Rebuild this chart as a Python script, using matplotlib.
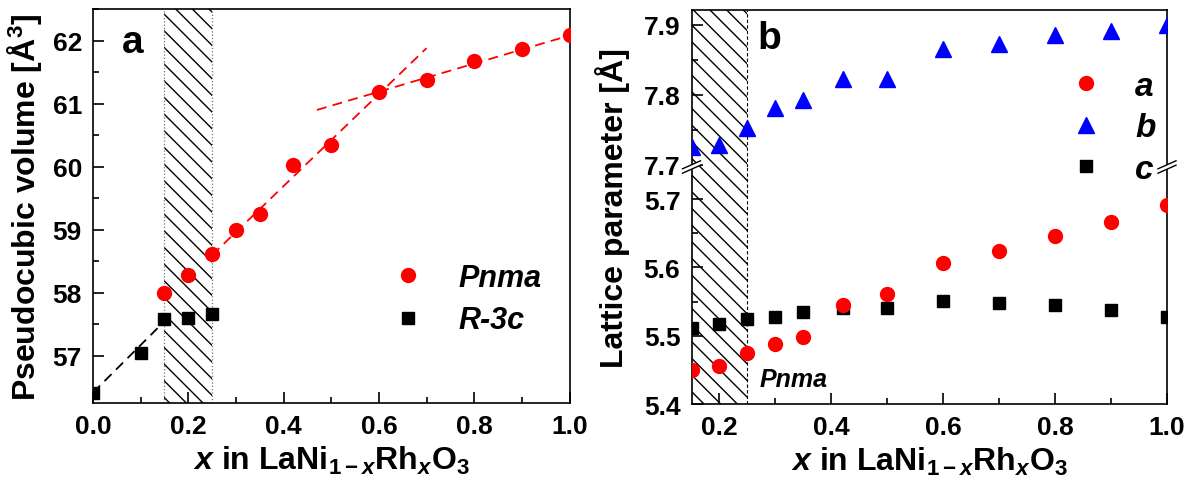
import matplotlib
matplotlib.use('Agg')
import matplotlib.pyplot as plt
from matplotlib.ticker import MultipleLocator
from matplotlib.lines import Line2D
from matplotlib.patches import Polygon

plt.rcParams['font.family'] = ['Liberation Sans', 'DejaVu Sans']
plt.rcParams['font.weight'] = 'bold'
plt.rcParams['axes.labelweight'] = 'bold'
plt.rcParams['mathtext.fontset'] = 'custom'
plt.rcParams['mathtext.rm'] = 'Liberation Sans:bold'
plt.rcParams['mathtext.it'] = 'Liberation Sans:italic:bold'
plt.rcParams['mathtext.bf'] = 'Liberation Sans:bold'
plt.rcParams['hatch.linewidth'] = 1.0
plt.rcParams['axes.linewidth'] = 1.2

# panel a: pseudocubic volume
x_pnma = [0.15, 0.2, 0.25, 0.3, 0.35, 0.42, 0.5, 0.6, 0.7, 0.8, 0.9, 1.0]
v_pnma = [58.00, 58.28, 58.61, 58.99, 59.25, 60.03, 60.35, 61.18, 61.37, 61.67, 61.86, 62.08]
x_r3c = [0.0, 0.1, 0.15, 0.2, 0.25]
v_r3c = [56.42, 57.05, 57.58, 57.61, 57.66]

# guide lines (end points)
fit_r3c_x = [0.0, 0.15]
fit_r3c_y = [56.42, 57.55]
fit_low_x = [0.25, 0.70]
fit_low_y = [58.60, 61.88]
fit_high_x = [0.47, 1.0]
fit_high_y = [60.90, 62.08]

# panel b: lattice parameters
x_lat = [0.15, 0.2, 0.25, 0.3, 0.35, 0.42, 0.5, 0.6, 0.7, 0.8, 0.9, 1.0]
a_lat = [5.450, 5.456, 5.474, 5.488, 5.498, 5.545, 5.561, 5.606, 5.624, 5.646, 5.666, 5.691]
b_lat = [7.725, 7.729, 7.752, 7.781, 7.792, 7.823, 7.822, 7.866, 7.873, 7.885, 7.891, 7.899]
c_lat = [5.512, 5.517, 5.525, 5.527, 5.534, 5.540, 5.541, 5.551, 5.548, 5.545, 5.538, 5.527]

hatch_lo, hatch_hi = 0.15, 0.25

W, H = 1196, 489
fig = plt.figure(figsize=(W / 100, H / 100), dpi=100)
ax1 = fig.add_axes([93 / W, 1 - 404 / H, 476.5 / W, 394 / H])
ax_lo = fig.add_axes([691.5 / W, 1 - 405 / H, 475.5 / W, 237 / H])
ax_up = fig.add_axes([691.5 / W, 1 - 168 / H, 475.5 / W, 157 / H])


def style_ticks(ax):
    ax.tick_params(which='both', direction='in', top=False, right=False,
                   labelsize=19, width=1.2, pad=8)
    ax.tick_params(which='major', length=8)
    ax.tick_params(which='minor', length=4)


xlabel = r'$x$ in LaNi$_{1-x}$Rh$_x$O$_3$'

# ---- panel a ----
ax1.axvspan(hatch_lo, hatch_hi, facecolor='none', edgecolor='black',
            hatch='\\\\', lw=0, zorder=0)
ax1.axvline(hatch_lo, color='0.45', ls=':', lw=0.9, zorder=1)
ax1.axvline(hatch_hi, color='0.45', ls=':', lw=0.9, zorder=1)

ax1.plot(fit_r3c_x, fit_r3c_y, color='black', lw=1.3, dashes=(5.5, 3.5), zorder=2)
ax1.plot(fit_low_x, fit_low_y, color='red', lw=1.3, dashes=(5.5, 3.5), zorder=2)
ax1.plot(fit_high_x, fit_high_y, color='red', lw=1.3, dashes=(5.5, 3.5), zorder=2)

ax1.plot(x_pnma, v_pnma, 'o', color='red', ms=10, label='Pnma', zorder=3)
ax1.plot(x_r3c, v_r3c, 's', color='black', ms=9, label='R-3c', zorder=3)

ax1.set_xlim(0.0, 1.0)
ax1.set_ylim(56.255, 62.5)
ax1.xaxis.set_major_locator(MultipleLocator(0.2))
ax1.xaxis.set_minor_locator(MultipleLocator(0.1))
ax1.yaxis.set_major_locator(MultipleLocator(1))
ax1.yaxis.set_minor_locator(MultipleLocator(0.5))
ax1.xaxis.set_major_formatter(lambda v, p: f'{v:.1f}')
style_ticks(ax1)
ax1.set_xlabel(xlabel, fontsize=23, fontweight='bold', labelpad=4)
ax1.set_ylabel(u'Pseudocubic volume [\u00c5$^3$]', fontsize=23,
               fontweight='bold', labelpad=6)
ax1.text(0.084, 0.916, 'a', transform=ax1.transAxes, fontsize=28,
         ha='center', va='center')
ax1.legend(loc='upper left', bbox_to_anchor=(0.63, 0.355), frameon=False,
           borderpad=0, borderaxespad=0, handlelength=1.0, handletextpad=1.14,
           labelspacing=0.40, numpoints=1,
           prop={'style': 'italic', 'weight': 'bold', 'size': 22})

# ---- panel b (broken axis) ----
for ax in (ax_lo, ax_up):
    ax.axvspan(hatch_lo, hatch_hi, facecolor='none', edgecolor='black',
               hatch='\\\\', lw=0, zorder=0)
    ax.axvline(hatch_hi, color='black', ls='--', lw=0.8, dashes=(3, 2), zorder=1)
    ax.set_xlim(0.15, 1.0)
    ax.xaxis.set_major_locator(MultipleLocator(0.2))
    ax.xaxis.set_minor_locator(MultipleLocator(0.1))
    ax.yaxis.set_major_locator(MultipleLocator(0.1))
    ax.yaxis.set_minor_locator(MultipleLocator(0.05))
    style_ticks(ax)

ax_lo.plot(x_lat, c_lat, 's', color='black', ms=9, zorder=3)
ax_lo.plot(x_lat, a_lat, 'o', color='red', ms=10, zorder=4)
ax_up.plot(x_lat, b_lat, '^', color='blue', ms=12, zorder=3)

ax_lo.set_ylim(5.4, 5.747)
ax_up.set_ylim(7.697, 7.921)
ax_lo.yaxis.set_major_formatter(lambda v, p: f'{v:.1f}')
ax_up.yaxis.set_major_formatter(lambda v, p: f'{v:.1f}')
ax_lo.xaxis.set_major_formatter(lambda v, p: f'{v:.1f}')
ax_lo.spines['top'].set_visible(False)
ax_up.spines['bottom'].set_visible(False)
ax_up.tick_params(which='both', bottom=False, labelbottom=False)

ax_lo.set_xlabel(xlabel, fontsize=23, fontweight='bold', labelpad=4)
fig.text(613 / W, 1 - 208.5 / H, u'Lattice parameter [\u00c5]', fontsize=23,
         fontweight='bold', rotation=90, ha='center', va='center')
ax_up.text(0.163, 0.822, 'b', transform=ax_up.transAxes, fontsize=28,
           ha='center', va='center')
ax_lo.text(0.272, 5.426, 'Pnma', fontsize=18, style='italic', va='baseline')

handles = [
    Line2D([], [], ls='none', marker='o', color='red', ms=10),
    Line2D([], [], ls='none', marker='^', color='blue', ms=12),
    Line2D([], [], ls='none', marker='s', color='black', ms=9),
]
leg = ax_up.legend(handles, ['a', 'b', 'c'], loc='upper left',
                   bbox_to_anchor=(0.794, 0.612), frameon=False, borderpad=0,
                   borderaxespad=0, handlelength=1.0, handletextpad=0.98,
                   labelspacing=0.31, numpoints=1,
                   prop={'style': 'italic', 'weight': 'bold', 'size': 24})
leg.set_zorder(10)

# break marks on both vertical spines
pos = ax_lo.get_position()
for xf in (pos.x0, pos.x1):
    px, py = xf * W, (1 - pos.y1) * H
    gap = 2.2
    upper = [((px - 9) / W, 1 - (py + 4 - gap) / H), ((px + 9) / W, 1 - (py - 4 - gap) / H)]
    lower = [((px - 9) / W, 1 - (py + 4 + gap) / H), ((px + 9) / W, 1 - (py - 4 + gap) / H)]
    fig.add_artist(Polygon(upper + lower[::-1], closed=True, facecolor='white',
                           edgecolor='none', transform=fig.transFigure, zorder=20))
    for seg in (upper, lower):
        fig.add_artist(Line2D([seg[0][0], seg[1][0]], [seg[0][1], seg[1][1]],
                              color='black', lw=1.0, transform=fig.transFigure,
                              zorder=21))

fig.savefig('out.png', dpi=100)
